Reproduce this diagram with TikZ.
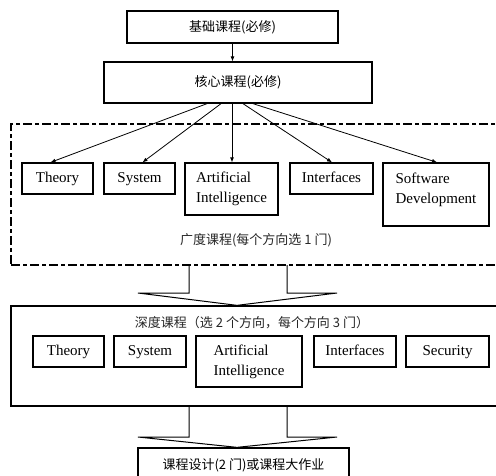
\documentclass[tikz,border=0pt]{standalone}
\usepackage{fontspec}
\setmainfont{Liberation Serif}
\newfontfamily\cjk{Noto Sans CJK SC}
\usetikzlibrary{arrows.meta,calc}
\begin{document}
\begin{tikzpicture}[x=1pt,y=-1pt,
  box/.style={draw, line width=1.3pt, inner sep=0pt, font=\fontsize{15}{20}\selectfont},
  onebox/.style={box, text height=10.5pt, text depth=3.5pt},
  cbox/.style={draw, line width=1.3pt, inner sep=0pt, font=\cjk\fontsize{13}{16}\selectfont},
  ctext/.style={inner sep=0pt, font=\cjk\fontsize{13}{16}\selectfont, text=black!85},
  group/.style={draw, line width=1.1pt, inner sep=0pt},
  fan/.style={line width=0.8pt, -{Latex[length=5pt,width=4pt]}},
  hollow/.style={line width=1pt}
  ]
\useasboundingbox (0,0) rectangle (496,475);
\clip (0,0) rectangle (496,475);

% top chain
\node[cbox, minimum width=211, minimum height=32] (base) at (232.5,27) {基础课程(必修)};
\node[cbox, minimum width=268, minimum height=41] (core) at (238,82.5) {核心课程(必修)};
\draw[fan] (base.south) -- (base.south |- core.north);

% breadth group
\node[group, dash pattern=on 9pt off 3pt on 4pt off 3pt, minimum width=510, minimum height=141] (breadth) at (266,194.5) {};
\node[ctext] (blabel) at (256,240) {广度课程(每个方向选 1 门)};

\node[onebox, minimum width=71, minimum height=31] (th1) at (57.5,178.5) {Theory};
\node[onebox, minimum width=71, minimum height=31] (sy1) at (139.5,178.5) {System};
\node[box, minimum width=93, minimum height=52, align=left] (ai1) at (231.5,189) {Artificial\\Intelligence};
\node[onebox, minimum width=83, minimum height=31] (in1) at (331.5,178.5) {Interfaces};
\node[box, minimum width=106, minimum height=63, align=left, text depth=13pt] (sw1) at (436,194.5) {Software\\Development};

\draw[fan] ([xshift=-31]core.south) -- ([xshift=-7]th1.north);
\draw[fan] ([xshift=-17]core.south) -- ([xshift=3]sy1.north);
\draw[fan] ([xshift=-6]core.south) -- ([xshift=0.5]ai1.north);
\draw[fan] ([xshift=5]core.south) -- ([xshift=0.5]in1.north);
\draw[fan] ([xshift=15]core.south) -- ([xshift=1]sw1.north);

% depth group
\node[group, line width=1.3pt, minimum width=510, minimum height=100] (deep) at (266,356) {};
\node[ctext] (dlabel) at (252,323) {深度课程（选 2 个方向，每个方向 3 门）};

\node[onebox, minimum width=71, minimum height=31] (th2) at (68.5,351.5) {Theory};
\node[onebox, minimum width=72, minimum height=31] (sy2) at (150,351.5) {System};
\node[box, minimum width=106, minimum height=51, align=left] (ai2) at (249,361.5) {Artificial\\Intelligence};
\node[onebox, minimum width=82, minimum height=31] (in2) at (355,351.5) {Interfaces};
\node[onebox, minimum width=83, minimum height=31] (se2) at (447.5,351.5) {Security};

% final
\node[cbox, minimum width=211, minimum height=34] (final) at (243.5,465) {课程设计(2 门)或课程大作业};

% hollow block arrows
\path (deep.north) ++(-29,0) coordinate (tip1);
\path (final.north) ++(-6.5,0) coordinate (tip2);
\draw[hollow] (189,265) -- (189,293) -- (138,293) -- (tip1) -- (337,293) -- (287,293) -- (287,265);
\draw[hollow] (189,406) -- (189,437) -- (138,437) -- (tip2) -- (337,437) -- (287,437) -- (287,406);
\end{tikzpicture}
\end{document}
